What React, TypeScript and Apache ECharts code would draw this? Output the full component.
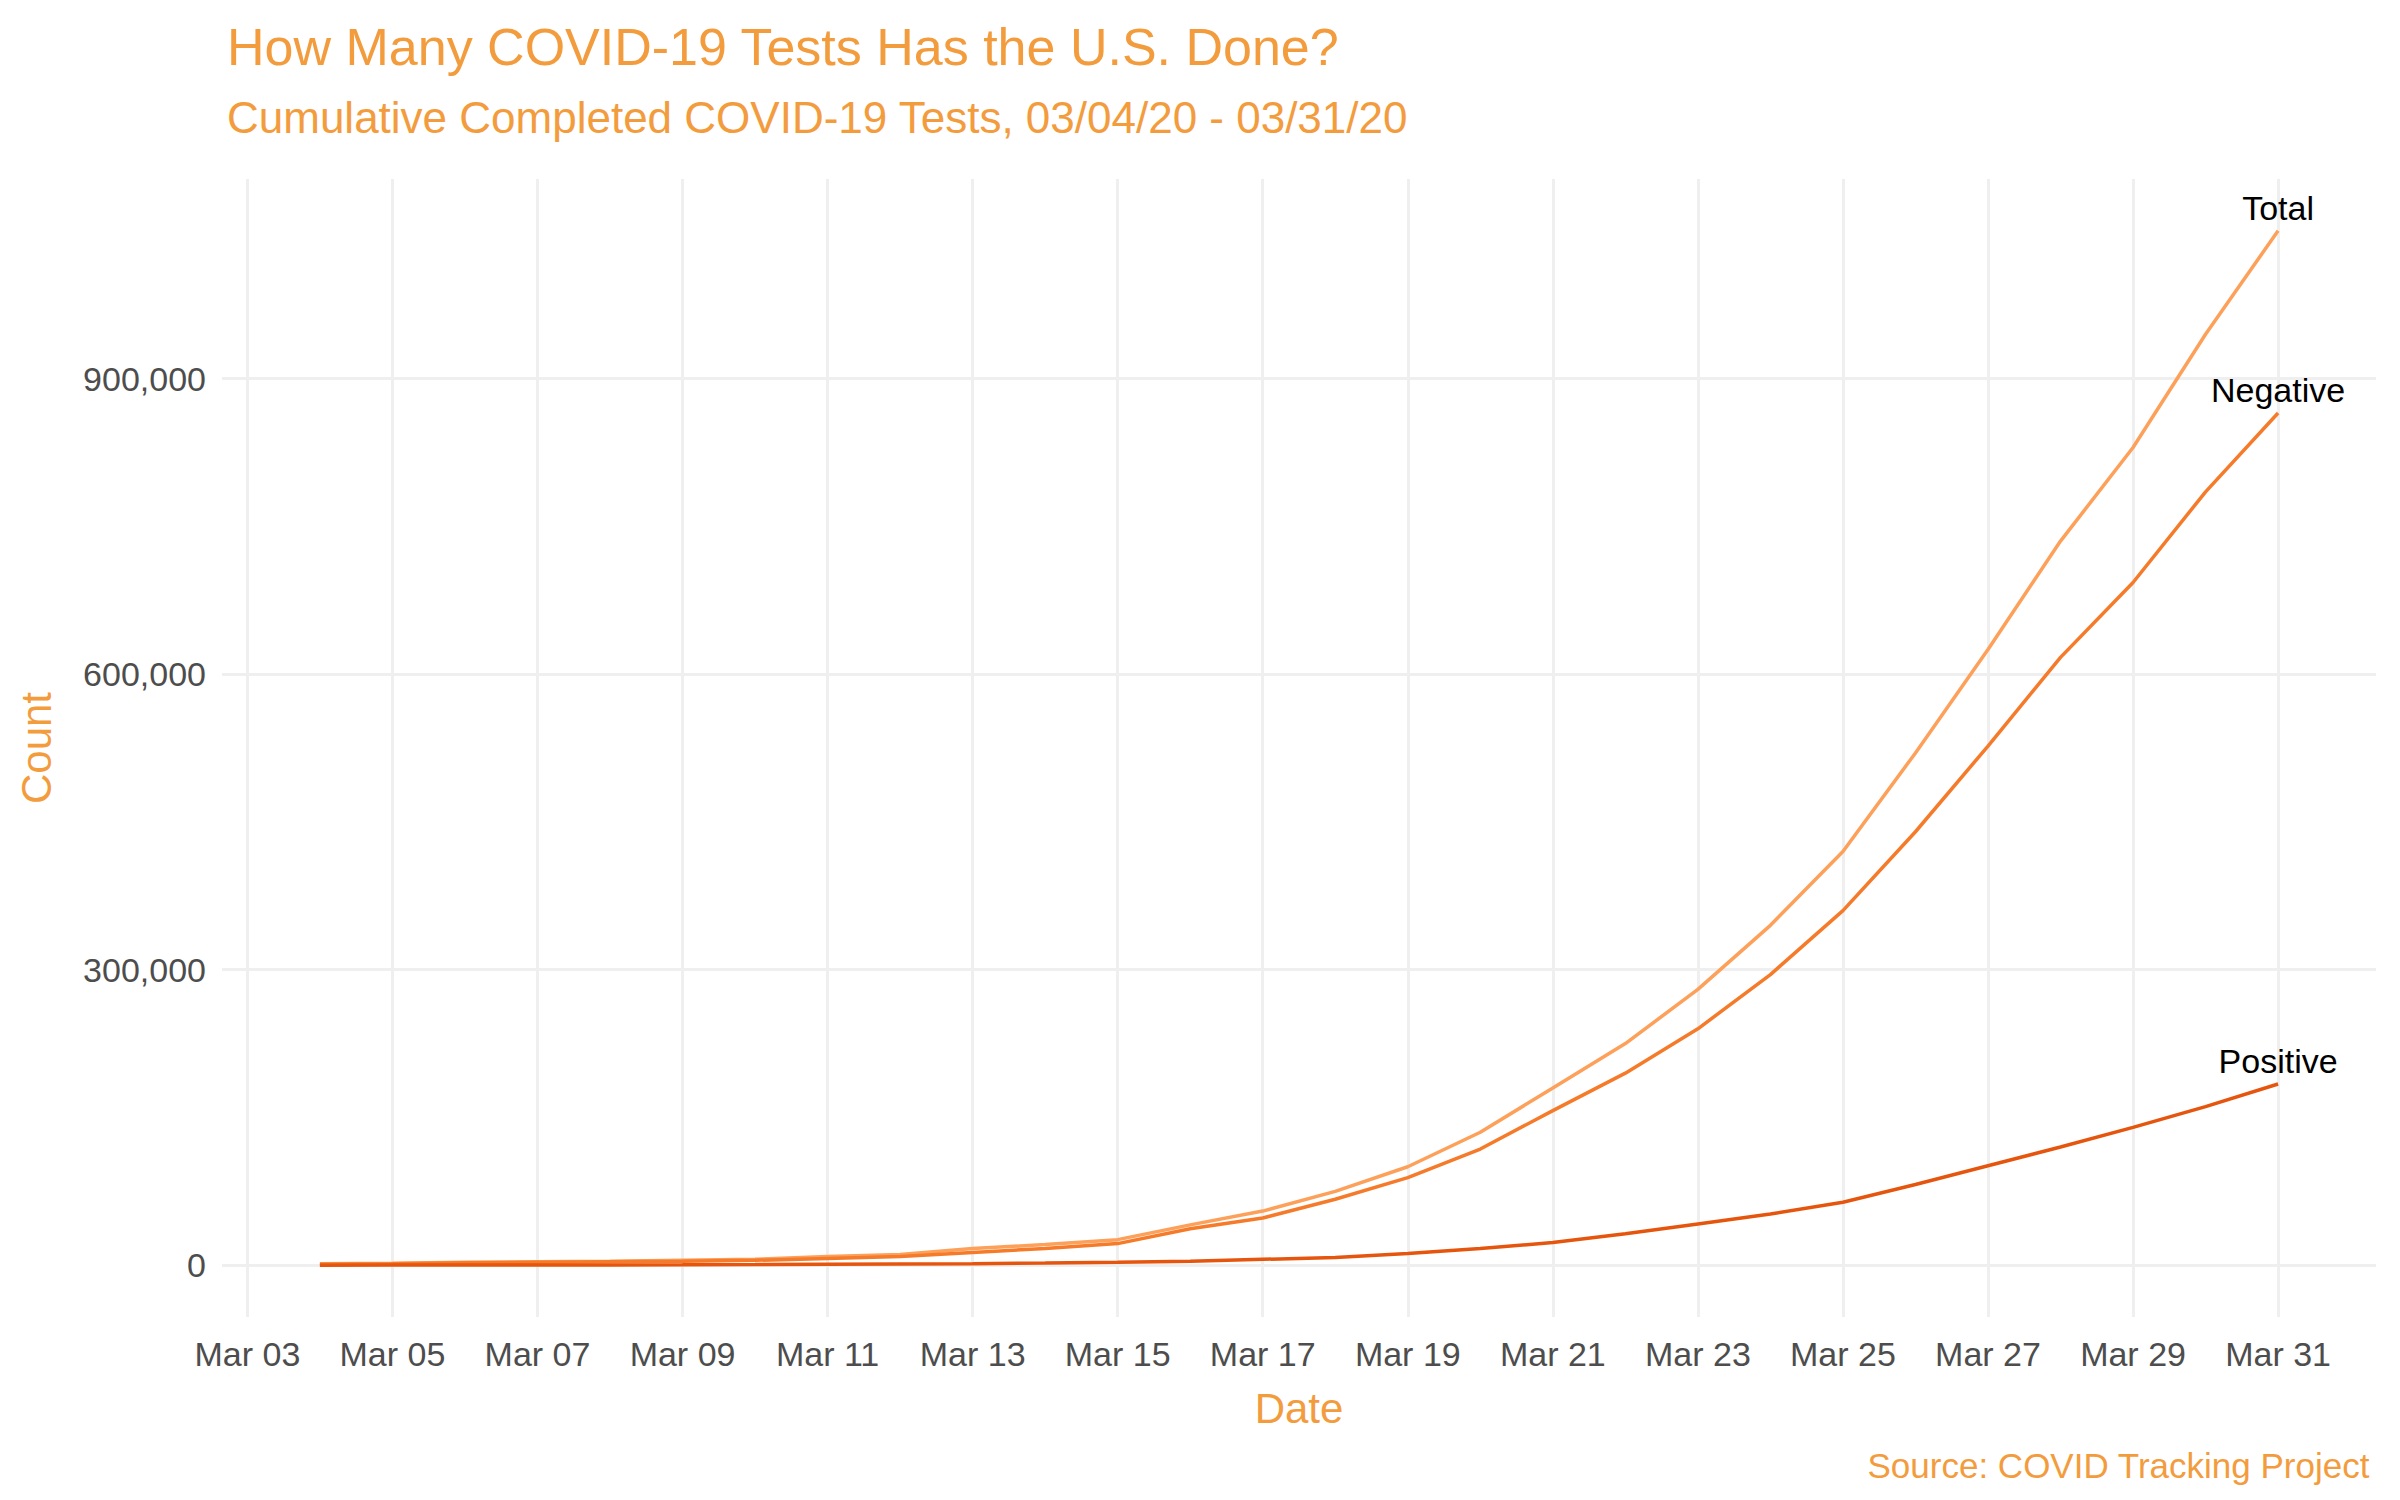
import { useEffect, useRef } from 'react';
import * as echarts from 'echarts';

// day of March, Mar 04 - Mar 31
const days = [4, 5, 6, 7, 8, 9, 10, 11, 12, 13, 14, 15, 16, 17, 18, 19, 20, 21, 22, 23, 24, 25, 26, 27, 28, 29, 30, 31];
const totalTests = [1500, 2000, 3000, 3500, 4000, 5000, 6000, 9000, 11000, 17000, 21000, 26000, 41000, 55000, 75000, 100000, 135000, 180000, 225000, 280000, 345000, 420000, 520000, 625000, 735000, 830000, 945000, 1050000];
const negativeTests = [1000, 1500, 2500, 3000, 3500, 4000, 5000, 7000, 9000, 13000, 17000, 22000, 37000, 48000, 67000, 89000, 118000, 157000, 195000, 240000, 295000, 360000, 440000, 527000, 617000, 693000, 785000, 865000];
const positiveTests = [100, 150, 200, 300, 400, 500, 700, 1000, 1300, 1600, 2200, 3000, 4000, 6000, 8000, 12000, 17000, 23000, 32000, 42000, 52000, 64000, 82000, 101000, 120000, 140000, 161000, 184000];
const xTicks = [3, 5, 7, 9, 11, 13, 15, 17, 19, 21, 23, 25, 27, 29, 31];
const yTicks = [0, 300000, 600000, 900000];

const FONT = 'Liberation Sans';
const ORANGE = '#F39C3E';

export default function App() {
  const chartRef = useRef<HTMLDivElement>(null);

  useEffect(() => {
    document.body.style.margin = '0';
    if (!chartRef.current) return;
    const chart = echarts.init(chartRef.current, undefined, { renderer: 'svg' });

    const mk = (name: string, values: number[], color: string) => ({
      name,
      type: 'line',
      data: days.map((d, i) => [d, values[i]]),
      showSymbol: false,
      lineStyle: { color, width: 3.5 },
      itemStyle: { color },
      endLabel: {
        show: true,
        formatter: name,
        distance: 0,
        align: 'center',
        verticalAlign: 'bottom',
        offset: [0, -6],
        color: '#000',
        fontFamily: FONT,
        fontSize: 34,
      },
    });

    chart.setOption({
      animation: false,
      backgroundColor: '#fff',
      textStyle: { fontFamily: FONT },
      title: [
        { text: 'How Many COVID-19 Tests Has the U.S. Done?', left: 222, top: 16, textStyle: { color: ORANGE, fontSize: 52, fontWeight: 'normal', fontFamily: FONT } },
        { text: 'Cumulative Completed COVID-19 Tests, 03/04/20 - 03/31/20', left: 222, top: 90, textStyle: { color: ORANGE, fontSize: 44, fontWeight: 'normal', fontFamily: FONT } },
        { text: 'Source: COVID Tracking Project', right: 25, top: 1443, textStyle: { color: ORANGE, fontSize: 35, fontWeight: 'normal', fontFamily: FONT } },
      ],
      grid: { left: 222, right: 24, top: 179, bottom: 183 },
      xAxis: {
        type: 'value',
        min: 2.65,
        max: 32.35,
        name: 'Date',
        nameLocation: 'middle',
        nameGap: 70,
        nameTextStyle: { color: ORANGE, fontSize: 42, fontFamily: FONT },
        axisLine: { show: false },
        axisTick: { show: false, customValues: xTicks },
        axisLabel: {
          customValues: xTicks,
          color: '#4d4d4d',
          fontSize: 34,
          margin: 20,
          formatter: (v: number) => 'Mar ' + String(Math.round(v)).padStart(2, '0'),
        },
        splitLine: { show: true, lineStyle: { color: '#efefef', width: 3 } },
      },
      yAxis: {
        type: 'value',
        min: -52500,
        max: 1102500,
        name: 'Count',
        nameLocation: 'middle',
        nameGap: 165,
        nameTextStyle: { color: ORANGE, fontSize: 42, fontFamily: FONT },
        axisLine: { show: false },
        axisTick: { show: false, customValues: yTicks },
        axisLabel: {
          customValues: yTicks,
          color: '#4d4d4d',
          fontSize: 34,
          margin: 16,
          formatter: (v: number) => v.toLocaleString('en-US'),
        },
        splitLine: { show: true, lineStyle: { color: '#efefef', width: 3 } },
      },
      series: [
        mk('Total', totalTests, '#FDA05A'),
        mk('Negative', negativeTests, '#F57B2A'),
        mk('Positive', positiveTests, '#E6550D'),
      ],
    });

    return () => chart.dispose();
  }, []);

  return <div ref={chartRef} style={{ width: 2400, height: 1500 }} />;
}
